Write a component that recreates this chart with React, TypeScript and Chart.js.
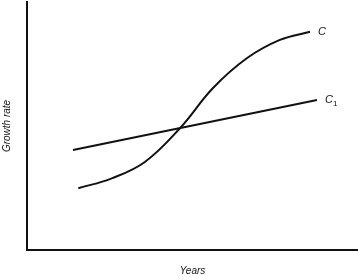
import React, { useEffect, useRef } from "react";
import { Chart, registerables } from "chart.js";

Chart.register(...registerables);

const curveLabels = ["C", "C1"];
const cX = [15.5, 25.6, 35.6, 46.2, 56.2, 66.4, 76.4, 85.5];
const cY = [24.9, 28.9, 35.5, 49.1, 65.3, 77.3, 84.7, 88.0];
const c1X = [13.9, 87.6];
const c1Y = [40.3, 60.5];
const xTitle = "Years";
const yTitle = "Growth rate";

const endLabels = {
  id: "endLabels",
  afterDatasetsDraw(chart: any) {
    const ctx = chart.ctx;
    ctx.save();
    ctx.fillStyle = "#111";
    ctx.textBaseline = "middle";
    chart.data.datasets.forEach((ds: any, i: number) => {
      const meta = chart.getDatasetMeta(i);
      const pt = meta.data[meta.data.length - 1];
      const label: string = ds.label;
      const x = pt.x + 8;
      const y = pt.y;
      ctx.font = "italic 11px 'Liberation Sans', Arial, sans-serif";
      ctx.textAlign = "left";
      ctx.fillText(label.charAt(0), x, y);
      if (label.length > 1) {
        const w = ctx.measureText(label.charAt(0)).width;
        ctx.font = "8px 'Liberation Sans', Arial, sans-serif";
        ctx.fillText(label.slice(1), x + w, y + 4);
      }
    });
    ctx.restore();
  },
};

export default function App() {
  const ref = useRef<HTMLCanvasElement | null>(null);
  useEffect(() => {
    if (!ref.current) return;
    const chart = new Chart(ref.current, {
      type: "line",
      data: {
        datasets: [
          {
            label: curveLabels[0],
            data: cX.map((x, i) => ({ x, y: cY[i] })),
            borderColor: "#111",
            borderWidth: 2,
            pointRadius: 0,
            tension: 0.4,
            fill: false,
          },
          {
            label: curveLabels[1],
            data: c1X.map((x, i) => ({ x, y: c1Y[i] })),
            borderColor: "#111",
            borderWidth: 2,
            pointRadius: 0,
            fill: false,
          },
        ],
      },
      options: {
        animation: false,
        responsive: false,
        maintainAspectRatio: false,
        layout: { padding: { left: 0, right: 0, top: 2, bottom: 0 } },
        plugins: { legend: { display: false }, tooltip: { enabled: false } },
        scales: {
          x: {
            type: "linear",
            min: 0,
            max: 100,
            grid: { display: false, drawTicks: false },
            ticks: { display: false },
            border: { display: true, color: "#111", width: 2 },
            title: {
              display: true,
              text: xTitle,
              color: "#111",
              font: { family: "'Liberation Sans', Arial, sans-serif", size: 10, style: "italic" },
              padding: { top: 15, bottom: 0 },
            },
          },
          y: {
            type: "linear",
            min: 0,
            max: 100,
            grid: { display: false, drawTicks: false },
            ticks: { display: false },
            border: { display: true, color: "#111", width: 2 },
            title: {
              display: true,
              text: yTitle,
              color: "#111",
              font: { family: "'Liberation Sans', Arial, sans-serif", size: 10, style: "italic" },
              padding: { top: 1, bottom: 14 },
            },
          },
        },
      },
      plugins: [endLabels],
    });
    return () => chart.destroy();
  }, []);
  return (
    <div style={{ position: "fixed", left: 0, top: 0, width: 358, height: 277, background: "#fff" }}>
      <canvas ref={ref} width={358} height={277} style={{ width: 358, height: 277 }} />
    </div>
  );
}
